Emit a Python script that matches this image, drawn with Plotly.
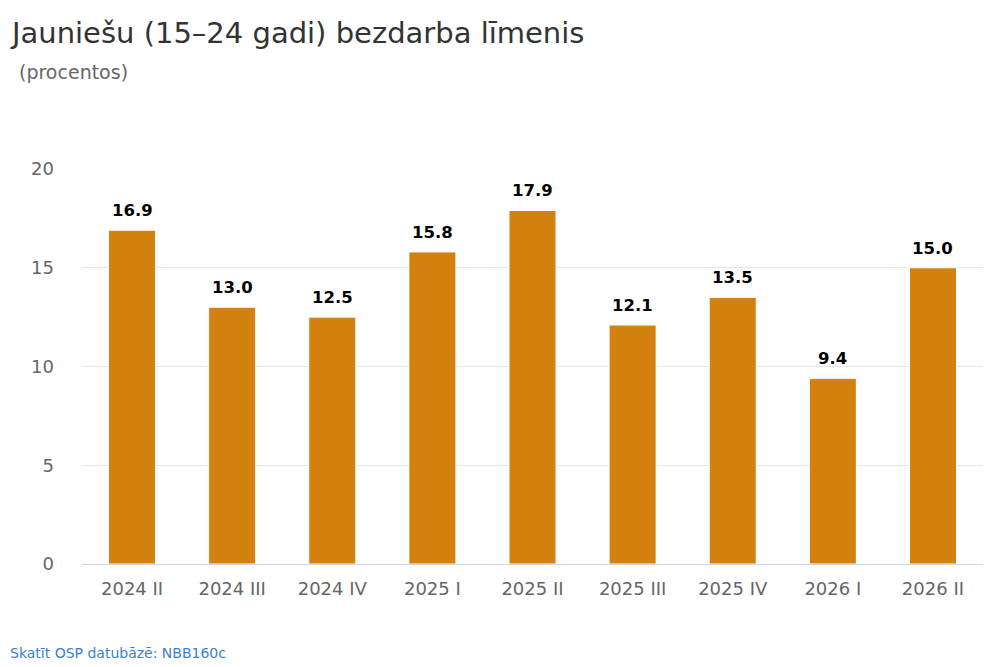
import plotly.graph_objects as go

# quarters and youth unemployment rate (%)
quarters = ["2024 II", "2024 III", "2024 IV", "2025 I", "2025 II",
            "2025 III", "2025 IV", "2026 I", "2026 II"]
rates = [16.9, 13.0, 12.5, 15.8, 17.9, 12.1, 13.5, 9.4, 15.0]
y_ticks = [0, 5, 10, 15, 20]

fig = go.Figure()
fig.add_trace(go.Bar(
    x=quarters,
    y=rates,
    marker=dict(color="#d4820f", line=dict(color="#ffffff", width=1)),
    hoverinfo="x+y",
))

# value labels above the bars (a bit more padding than textposition="outside")
for q, v in zip(quarters, rates):
    fig.add_annotation(x=q, y=v, text=f"{v:.1f}", showarrow=False,
                       yanchor="bottom", yshift=8,
                       font=dict(size=16.5, color="#000000",
                                 family="DejaVu Sans", weight="bold"))

# page body has an 8px margin, so the figure is 8px smaller than the window
fig.update_layout(
    width=992, height=659,
    font=dict(family="DejaVu Sans", color="#666666"),
    plot_bgcolor="#ffffff", paper_bgcolor="#ffffff",
    margin=dict(l=74, r=17, t=161, b=103),
    bargap=0.53,
    showlegend=False,
    title=dict(text="Jauniešu (15–24 gadi) bezdarba līmenis",
               x=0.004, xanchor="left", y=0.962, yanchor="middle",
               font=dict(size=29, color="#333333")),
)

fig.update_xaxes(
    showgrid=False, showline=True, linecolor="#ccd6eb", linewidth=1,
    ticks="", tickfont=dict(size=18, color="#666666"), ticklabelstandoff=8,
)
fig.update_yaxes(
    range=[0, 20], tickvals=y_ticks, showgrid=True, gridcolor="#e6e6e6",
    gridwidth=1, zeroline=False, showline=False,
    tickfont=dict(size=18, color="#666666"), ticklabelstandoff=27,
)

fig.add_annotation(text="(procentos)", xref="paper", yref="paper",
                   x=-0.072, y=1.2456, xanchor="left", yanchor="middle",
                   showarrow=False, font=dict(size=19, color="#666666"))
fig.add_annotation(text="Skatīt OSP datubāzē: NBB160c", xref="paper", yref="paper",
                   x=-0.0821, y=-0.2253, xanchor="left", yanchor="middle",
                   showarrow=False, font=dict(size=14, color="#3b7fd0"))

fig.write_html("out.html")
